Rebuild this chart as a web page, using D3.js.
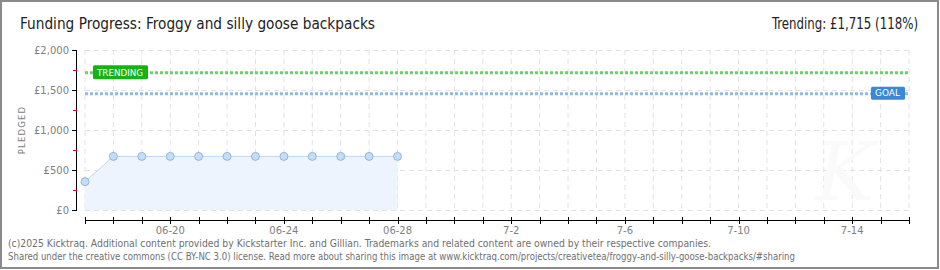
<!DOCTYPE html>
<html><head><meta charset="utf-8">
<script src="https://cdn.jsdelivr.net/npm/d3@7"></script>
<style>body{margin:0;background:#fff}svg{display:block}</style>
</head><body>
<svg id="c" width="940" height="270"></svg>
<script>
const title = "Funding Progress: Froggy and silly goose backpacks";
const trendingText = "Trending:  £1,715 (118%)";
const dates = ["2025-06-17","2025-06-18","2025-06-19","2025-06-20","2025-06-21","2025-06-22","2025-06-23","2025-06-24","2025-06-25","2025-06-26","2025-06-27","2025-06-28"];
const pledged = [354, 670, 670, 670, 670, 670, 670, 670, 670, 670, 670, 670];
const goal = 1453;
const trending = 1715;
const yTicks = [0, 500, 1000, 1500, 2000];
const yMinor = [250, 750, 1250, 1750];
const xStart = "2025-06-17", xEnd = "2025-07-16";
const xLabelDates = ["2025-06-20","2025-06-24","2025-06-28","2025-07-02","2025-07-06","2025-07-10","2025-07-14"];
const footer = ["(c)2025 Kicktraq. Additional content provided by Kickstarter Inc. and Gillian. Trademarks and related content are owned by their respective companies.",
"Shared under the creative commons (CC BY-NC 3.0) license. Read more about sharing this image at www.kicktraq.com/projects/creativetea/froggy-and-silly-goose-backpacks/#sharing"];

const parse = d3.utcParse("%Y-%m-%d");
const svg = d3.select("#c");
const x = d3.scaleUtc().domain([parse(xStart), parse(xEnd)]).range([85, 909]);
const y = d3.scaleLinear().domain([0, 2000]).range([210, 50]);
const data = dates.map((d,i)=>({d:parse(d), v:pledged[i]}));
const days = d3.utcDay.range(parse(xStart), d3.utcDay.offset(parse(xEnd),1));

// frame
svg.append("rect").attr("x",1).attr("y",1).attr("width",937).attr("height",267)
  .attr("fill","#fff").attr("stroke","#8a8a8a").attr("stroke-width",2);

// grid
const g = svg.append("g");
g.selectAll("line.v").data(days).join("line")
  .attr("x1",d=>x(d)).attr("x2",d=>x(d)).attr("y1",y(2000)).attr("y2",y(0))
  .attr("stroke","#e2e2e2").attr("stroke-dasharray","5,4");
g.selectAll("line.h").data(yTicks).join("line")
  .attr("x1",85).attr("x2",909).attr("y1",d=>y(d)+0.5).attr("y2",d=>y(d)+0.5)
  .attr("stroke","#e2e2e2").attr("stroke-dasharray","5,4");

// watermark
svg.append("text").attr("x",845).attr("y",200).attr("font-family","DejaVu Serif").attr("font-style","italic")
  .attr("font-size",80).attr("fill","#fafafa").attr("text-anchor","middle").text("K");

// area
svg.append("path").datum(data)
  .attr("d", d3.area().x(d=>x(d.d)).y0(y(0)).y1(d=>y(d.v)))
  .attr("fill","#edf4fd");
svg.append("path").datum(data)
  .attr("d", d3.line().x(d=>x(d.d)).y(d=>y(d.v)))
  .attr("fill","none").attr("stroke","#bcd7f5").attr("stroke-width",1);

// trending & goal lines
svg.append("line").attr("x1",85).attr("x2",909).attr("y1",y(trending)).attr("y2",y(trending))
  .attr("stroke","#6fcf6f").attr("stroke-width",3).attr("stroke-dasharray","3,2");
svg.append("line").attr("x1",85).attr("x2",909).attr("y1",y(goal)).attr("y2",y(goal))
  .attr("stroke","#90bae6").attr("stroke-width",3).attr("stroke-dasharray","3,2");

// points
svg.selectAll("circle").data(data).join("circle")
  .attr("cx",d=>x(d.d)).attr("cy",d=>y(d.v)).attr("r",4)
  .attr("fill","#c4ddf8").attr("stroke","#94b6da").attr("stroke-width",1);

// badges
function badge(bx, by, w, h, fill, label){
  svg.append("rect").attr("x",bx).attr("y",by).attr("width",w).attr("height",h).attr("rx",1.5).attr("fill",fill);
  svg.append("text").attr("x",bx+4).attr("y",by+h-3.5).attr("font-family","DejaVu Sans")
    .attr("font-size",9.5).attr("fill","#fff").attr("textLength",w-9).attr("lengthAdjust","spacingAndGlyphs").text(label);
}
badge(93, y(trending)-7.5, 55, 14, "#16b316", "TRENDING");
badge(871, y(goal)-7, 34, 13, "#3a87d6", "GOAL");

// y axis
svg.append("line").attr("x1",76.5).attr("x2",76.5).attr("y1",y(2000)).attr("y2",y(0)).attr("stroke","#000");
svg.selectAll("line.yt").data(yTicks).join("line")
  .attr("x1",72).attr("x2",77).attr("y1",d=>y(d)+0.5).attr("y2",d=>y(d)+0.5).attr("stroke","#000");
svg.selectAll("line.ym").data(yMinor).join("line")
  .attr("x1",73).attr("x2",77).attr("y1",d=>y(d)+0.5).attr("y2",d=>y(d)+0.5).attr("stroke","#e00");
const fmt = d3.format(",");
svg.selectAll("text.yl").data(yTicks).join("text")
  .attr("x",69).attr("y",d=>y(d)+4).attr("text-anchor","end")
  .attr("font-family","DejaVu Sans").attr("font-size",10).attr("fill","#808080")
  .text(d=>"£"+fmt(d));
svg.append("text").attr("transform","translate(25,130) rotate(-90)").attr("text-anchor","middle")
  .attr("font-family","DejaVu Sans").attr("font-size",8.5).attr("fill","#808080").attr("letter-spacing",1.2).text("PLEDGED");

// x axis
svg.append("line").attr("x1",85).attr("x2",910).attr("y1",220.5).attr("y2",220.5).attr("stroke","#000");
svg.selectAll("line.xt").data(days).join("line")
  .attr("x1",d=>Math.round(x(d))+0.5).attr("x2",d=>Math.round(x(d))+0.5).attr("y1",217).attr("y2",224).attr("stroke","#000");
const lf = d=>{const m=d.getUTCMonth()+1, dd=d.getUTCDate(); return (m===6?"06":String(m))+"-"+dd;};
svg.selectAll("text.xl").data(xLabelDates.map(parse)).join("text")
  .attr("x",d=>x(d)).attr("y",234).attr("text-anchor","middle")
  .attr("font-family","DejaVu Sans").attr("font-size",10).attr("fill","#808080").text(lf);

// title
svg.append("text").attr("x",20).attr("y",29).attr("font-family","DejaVu Sans Condensed, DejaVu Sans").attr("font-size",15)
  .attr("fill","#222").attr("textLength",355).attr("lengthAdjust","spacingAndGlyphs").text(title);
svg.append("text").attr("x",918).attr("y",29).attr("text-anchor","end").attr("font-family","DejaVu Sans Condensed, DejaVu Sans").attr("font-size",15)
  .attr("fill","#222").attr("textLength",146).attr("lengthAdjust","spacingAndGlyphs").text(trendingText);

// footer
svg.selectAll("text.ft").data(footer).join("text")
  .attr("x",8).attr("y",(d,i)=>247+i*13).attr("font-family","DejaVu Sans").attr("font-size",10)
  .attr("fill","#707070").attr("textLength",(d,i)=>i===0?703:787).attr("lengthAdjust","spacingAndGlyphs").text(d=>d);
</script>
</body></html>
